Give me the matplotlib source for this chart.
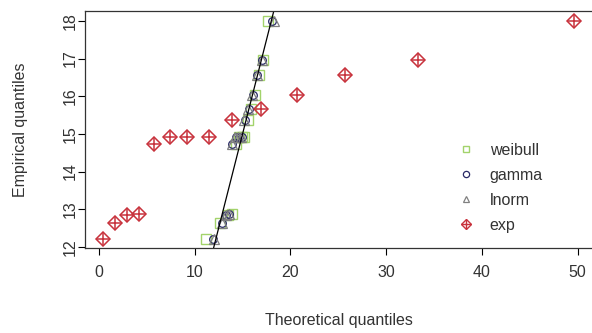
import matplotlib
matplotlib.use("Agg")
import matplotlib.pyplot as plt
from matplotlib.lines import Line2D

plt.rcParams['font.family'] = ['Liberation Sans', 'DejaVu Sans']

# Empirical quantiles shared by every fitted distribution
empirical = [12.22, 12.64, 12.84, 12.88, 14.74, 14.92, 14.92, 14.93,
             15.36, 15.67, 16.03, 16.56, 16.95, 18.0]

# Theoretical quantiles of each fitted distribution
weibull_q = [11.2, 12.6, 13.5, 13.9, 14.3, 14.6, 14.9, 15.2, 15.6, 15.9,
             16.3, 16.7, 17.1, 17.7]
gamma_q = [11.9, 12.8, 13.3, 13.6, 13.9, 14.3, 14.6, 14.9, 15.3, 15.7,
           16.1, 16.5, 17.0, 18.1]
lnorm_q = [12.0, 12.9, 13.3, 13.6, 13.9, 14.2, 14.5, 14.8, 15.2, 15.6,
           16.0, 16.5, 17.0, 18.3]
exp_q = [0.45, 1.67, 2.96, 4.2, 5.78, 7.42, 9.23, 11.5, 13.87, 16.9,
         20.7, 25.75, 33.33, 49.66]

legend_labels = ["weibull", "gamma", "lnorm", "exp"]
x_ticks = [0, 10, 20, 30, 40, 50]
y_ticks = [12, 13, 14, 15, 16, 17, 18]

col_weibull = "#a3d36b"
col_gamma = "#2a2a66"
col_lnorm = "#808080"
col_exp = "#c8323c"

fig = plt.figure(figsize=(5.92, 3.33), dpi=100)
ax = fig.add_axes([85 / 592, 1 - 248 / 333, (592 - 85) / 592, (248 - 10.7) / 333])

ax.plot(weibull_q, empirical, linestyle="none", marker="s", ms=7,
        mfc="none", mec=col_weibull, mew=1.0)
ax.plot(gamma_q, empirical, linestyle="none", marker="o", ms=5.5,
        mfc="none", mec=col_gamma, mew=0.9)
ax.plot(lnorm_q, empirical, linestyle="none", marker="^", ms=6.5,
        mfc="none", mec=col_lnorm, mew=0.9)
ax.plot(exp_q, empirical, linestyle="none", marker="D", ms=7,
        mfc="none", mec=col_exp, mew=1.1)
ax.plot(exp_q, empirical, linestyle="none", marker="+", ms=9.5,
        mec=col_exp, mew=1.1)

# Reference line y = x
ax.axline((12, 12), slope=1, color="black", lw=0.9)

ax.set_xlim(-1.46, 51.5)
ax.set_ylim(11.97, 18.27)
ax.set_xticks(x_ticks)
ax.set_yticks(y_ticks)
ax.set_yticklabels([str(v) for v in y_ticks], rotation=90, va="center")
ax.tick_params(axis="both", direction="out", length=5, width=0.8,
               labelsize=11.5, colors="black", labelcolor="#333333")
ax.tick_params(axis="x", pad=7)
ax.tick_params(axis="y", pad=0)
for s in ax.spines.values():
    s.set_color("#333333")
    s.set_linewidth(0.9)
ax.spines["right"].set_visible(False)

ax.set_xlabel("Theoretical quantiles", fontsize=11.5, color="#333333",
              labelpad=24)
ax.set_ylabel("Empirical quantiles", fontsize=11.5, color="#333333",
              labelpad=25)

exp_handle = (Line2D([], [], linestyle="none", marker="D", ms=5.5,
                     mfc="none", mec=col_exp, mew=1.0),
              Line2D([], [], linestyle="none", marker="+", ms=7.5,
                     mec=col_exp, mew=1.0))
handles = [
    Line2D([], [], linestyle="none", marker="s", ms=5, mfc="none",
           mec=col_weibull, mew=1.0),
    Line2D([], [], linestyle="none", marker="o", ms=4.5, mfc="none",
           mec=col_gamma, mew=0.9),
    Line2D([], [], linestyle="none", marker="^", ms=5, mfc="none",
           mec=col_lnorm, mew=0.9),
    exp_handle,
]
leg = fig.legend(handles, legend_labels, loc="upper left",
                 bbox_to_anchor=(456 / 592, 1 - 143 / 333), frameon=False,
                 fontsize=11.5, handlelength=1.2, handletextpad=0.9,
                 labelspacing=0.62, borderaxespad=0, borderpad=0)
for t in leg.get_texts():
    t.set_color("#333333")

fig.savefig("out.png", dpi=100)
